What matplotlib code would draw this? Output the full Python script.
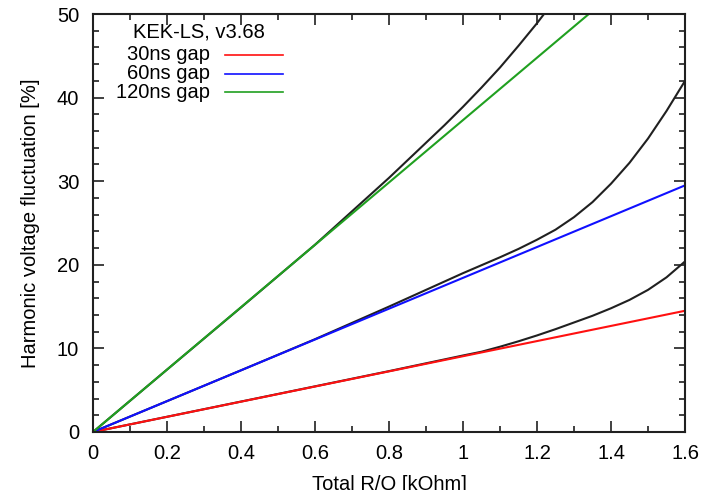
import matplotlib
matplotlib.use("Agg")
import matplotlib.pyplot as plt
from matplotlib.lines import Line2D
from matplotlib.ticker import MultipleLocator

plt.rcParams['font.family'] = ['Liberation Sans', 'DejaVu Sans']

# linear estimates (end points of each straight line)
rq_lin = [0.0, 1.6]
v30 = [0.0, 14.5]
v60 = [0.0, 29.5]
v120 = [0.0, 59.7]

# full calculation (black curves)
rq_30 = [0.0, 0.2, 0.4, 0.6, 0.8, 1.0, 1.05, 1.1, 1.15, 1.2, 1.25, 1.3,
         1.35, 1.4, 1.45, 1.5, 1.55, 1.6]
full_30 = [0.0, 1.82, 3.64, 5.46, 7.28, 9.15, 9.6, 10.2, 10.85, 11.55,
           12.3, 13.1, 13.9, 14.8, 15.8, 17.0, 18.5, 20.4]
rq_60 = [0.0, 0.2, 0.4, 0.6, 0.8, 0.9, 1.0, 1.1, 1.15, 1.2, 1.25, 1.3,
         1.35, 1.4, 1.45, 1.5, 1.55, 1.6]
full_60 = [0.0, 3.69, 7.38, 11.1, 15.0, 17.0, 19.0, 20.9, 21.9, 23.0,
           24.2, 25.7, 27.5, 29.7, 32.2, 35.1, 38.4, 42.0]
rq_120 = [0.0, 0.2, 0.4, 0.6, 0.7, 0.8, 0.9, 0.95, 1.0, 1.05, 1.1, 1.15,
          1.2, 1.25]
full_120 = [0.0, 7.46, 14.9, 22.4, 26.4, 30.4, 34.6, 36.7, 38.9, 41.2,
            43.6, 46.2, 48.9, 51.8]

labels = ['30ns gap', '60ns gap', '120ns gap']
colors = ['#ff1010', '#1010ff', '#20a020']

fig = plt.figure(figsize=(7.03, 4.90), dpi=100)
ax = fig.add_axes([0.1323, 0.1184, 0.8421, 0.8530])

for x, y in [(rq_30, full_30), (rq_60, full_60), (rq_120, full_120)]:
    ax.plot(x, y, color='#202020', lw=1.5)
for y, c in zip([v30, v60, v120], colors):
    ax.plot(rq_lin, y, color=c, lw=1.5)

ax.set_xlim(0, 1.6)
ax.set_ylim(0, 50)
ax.xaxis.set_minor_locator(MultipleLocator(0.1))
ax.yaxis.set_major_locator(MultipleLocator(10))
ax.yaxis.set_minor_locator(MultipleLocator(2))
ax.set_xticks([0, 0.2, 0.4, 0.6, 0.8, 1.0, 1.2, 1.4, 1.6])
ax.set_xticklabels(['0', '0.2', '0.4', '0.6', '0.8', '1', '1.2', '1.4', '1.6'])
ax.tick_params(which='both', direction='in', top=True, right=True,
               labelsize=14.5, width=1.2, color='#202020')
ax.tick_params(axis='x', pad=9)
ax.tick_params(axis='y', pad=10)
ax.tick_params(which='major', length=8)
ax.tick_params(which='minor', length=4)
for s in ax.spines.values():
    s.set_linewidth(1.5)
    s.set_color('#202020')

ax.set_xlabel('Total R/Q [kOhm]', fontsize=14.5, labelpad=8)
ax.set_ylabel('Harmonic voltage fluctuation [%]', fontsize=14.5, labelpad=12)

# gnuplot style key: right-aligned text, sample line on the right
ax.text(0.179, 0.957, 'KEK-LS, v3.68', transform=ax.transAxes,
        ha='center', va='center', fontsize=14.5)
for i, (lab, c) in enumerate(zip(labels, colors)):
    yk = 0.902 - i * 0.0445
    ax.text(0.198, yk, lab, transform=ax.transAxes, ha='right',
            va='center', fontsize=14.5)
    ax.add_line(Line2D([0.223, 0.321], [yk, yk], transform=ax.transAxes,
                       color=c, lw=1.2))

fig.savefig('out.png', dpi=100)
